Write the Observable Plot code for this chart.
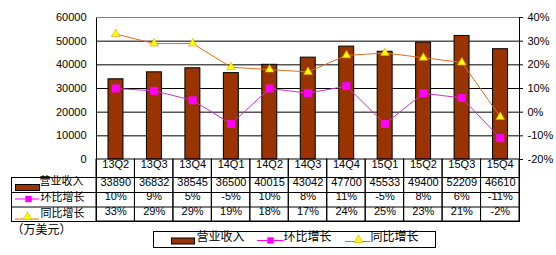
<!DOCTYPE html>
<html>
<head>
<meta charset="utf-8">
<script src="https://cdn.jsdelivr.net/npm/d3@7"></script>
<script src="https://cdn.jsdelivr.net/npm/@observablehq/plot@0.6"></script>
<style>
  body { margin: 0; background: #fff; }
  #chart { width: 556px; height: 255px; }
</style>
</head>
<body>
<div id="chart"></div>
<script>
// ---- data ----
const categories = ["13Q2","13Q3","13Q4","14Q1","14Q2","14Q3","14Q4","15Q1","15Q2","15Q3","15Q4"];
const revenue = [33890,36832,38545,36500,40015,43042,47700,45533,49400,52209,46610];
const qoq = [10,9,5,-5,10,8,11,-5,8,6,-11];
const yoy = [33,29,29,19,18,17,24,25,23,21,-2];
const leftTicks = [0,10000,20000,30000,40000,50000,60000];
const rightTicks = [-20,-10,0,10,20,30,40];
const seriesNames = ["营业收入","环比增长","同比增长"];
const unitLabel = "（万美元）";

// ---- layout ----
const W = 556, H = 255, ML = 96, MR = 37, MT = 17, MB = 96;
const FB = H - MB;   // frame bottom (159)
const FR = W - MR;   // frame right (519)

const BROWN = "#993300", MAG_LINE = "#cc33cc", MAG = "#ff00ff", ORANGE = "#e0701f", YELLOW = "#ffff00";
const CJK = "'Noto Sans CJK SC', sans-serif";

const rows = categories.map((q, i) => ({q, rev: revenue[i], qoq: qoq[i], yoy: yoy[i]}));
const yMin = leftTicks[0], yMax = leftTicks[leftTicks.length - 1];
const pMin = rightTicks[0], pMax = rightTicks[rightTicks.length - 1];
const pctToY = p => yMin + (p - pMin) / (pMax - pMin) * (yMax - yMin);

// helpers for decorations positioned relative to the frame
const box = (x1, y1, x2, y2, o = {}) => Plot.frame({insetLeft: x1 - ML, insetTop: y1 - MT, insetRight: FR - x2, insetBottom: FB - y2, ...o});
const hline = (x1, x2, y, o = {}) => Plot.ruleY([yMin], {dy: y - FB, insetLeft: x1 - ML, insetRight: FR - x2, ...o});
const at = (x, y) => ({frameAnchor: "bottom-left", dx: x - ML, dy: y - FB});

const marks = [
  // plot frame + table outline
  box(ML, MT, FR, FB + 62, {stroke: "#000"}),
  // gridlines
  Plot.ruleY(leftTicks.slice(1, -1), {stroke: "#000"}),
  Plot.ruleY([yMax], {stroke: "#808080"}),
  // left axis labels
  Plot.text(leftTicks, {y: d => d, frameAnchor: "left", dx: -10, textAnchor: "end", text: d => String(d), fontSize: 11}),
  // right axis ticks + labels
  Plot.ruleY(rightTicks, {y: pctToY, insetLeft: FR - ML, insetRight: -4, stroke: "#000"}),
  Plot.text(rightTicks, {y: pctToY, frameAnchor: "right", dx: 8, textAnchor: "start", text: d => d + "%", fontSize: 11}),
  // bars
  Plot.barY(rows, {x: "q", y: "rev", fill: BROWN, stroke: "#000", strokeWidth: 1, insetLeft: 12, insetRight: 11.5}),
  // 环比
  Plot.line(rows, {x: "q", y: d => pctToY(d.qoq), stroke: MAG_LINE, strokeWidth: 1}),
  Plot.dot(rows, {x: "q", y: d => pctToY(d.qoq), symbol: "square", r: 4.5, fill: MAG}),
  // 同比
  Plot.line(rows, {x: "q", y: d => pctToY(d.yoy), stroke: ORANGE, strokeWidth: 1}),
  Plot.dot(rows, {x: "q", y: d => pctToY(d.yoy), symbol: "triangle", r: 3.2, fill: YELLOW, stroke: "#e0a000", strokeWidth: 0.6}),

  // ---- data table ----
  Plot.cell(rows, {x: "q", fill: "none", stroke: "#000", insetTop: FB - MT, insetBottom: -62}),
  box(11, 177, FR, FB + 62, {stroke: "#000"}),
  hline(11, FR, 192, {stroke: "#000"}),
  hline(11, FR, 206.5, {stroke: "#000"}),
  Plot.text(rows, {x: "q", text: "q", frameAnchor: "bottom", dy: 167 - FB, fontSize: 11}),
  Plot.text(rows, {x: "q", text: d => String(d.rev), frameAnchor: "bottom", dy: 185 - FB, fontSize: 11}),
  Plot.text(rows, {x: "q", text: d => d.qoq + "%", frameAnchor: "bottom", dy: 199.5 - FB, fontSize: 11}),
  Plot.text(rows, {x: "q", text: d => d.yoy + "%", frameAnchor: "bottom", dy: 214 - FB, fontSize: 11}),
  // row labels with swatches
  box(15, 184, 39, 190, {fill: BROWN, stroke: "#000"}),
  Plot.text([seriesNames[0]], {...at(39, 184), text: d => d, textAnchor: "start", fontFamily: CJK, fontSize: 11}),
  hline(15, 39, 198.5, {stroke: MAG}),
  Plot.dot([0], {...at(28, 198.5), symbol: "square", r: 3.6, fill: MAG}),
  Plot.text([seriesNames[1]], {...at(40, 200), text: d => d, textAnchor: "start", fontFamily: CJK, fontSize: 11}),
  hline(15, 39, 218.5, {stroke: ORANGE}),
  Plot.dot([0], {...at(27, 216.5), symbol: "triangle", r: 3.2, fill: YELLOW, stroke: "#e0a000", strokeWidth: 0.6}),
  Plot.text([seriesNames[2]], {...at(40, 216), text: d => d, textAnchor: "start", fontFamily: CJK, fontSize: 11}),

  // unit label
  Plot.text([unitLabel], {...at(11, 233.5), text: d => d, textAnchor: "start", fontFamily: CJK, fontSize: 12}),

  // ---- legend ----
  box(153, 231, 435, 247, {stroke: "#000"}),
  box(171, 237.5, 194, 243.5, {fill: BROWN, stroke: "#000"}),
  Plot.text([seriesNames[0]], {...at(196, 240), text: d => d, textAnchor: "start", fontFamily: CJK, fontSize: 12}),
  hline(257, 283, 240, {stroke: MAG}),
  Plot.dot([0], {...at(270, 240), symbol: "square", r: 3.6, fill: MAG}),
  Plot.text([seriesNames[1]], {...at(283, 240), text: d => d, textAnchor: "start", fontFamily: CJK, fontSize: 12}),
  hline(345, 370, 241, {stroke: ORANGE}),
  Plot.dot([0], {...at(358, 239.5), symbol: "triangle", r: 3.2, fill: YELLOW, stroke: "#e0a000", strokeWidth: 0.6}),
  Plot.text([seriesNames[2]], {...at(370, 240), text: d => d, textAnchor: "start", fontFamily: CJK, fontSize: 12})
];

const chart = Plot.plot({
  width: W, height: H,
  marginLeft: ML, marginRight: MR, marginTop: MT, marginBottom: MB,
  x: {domain: categories, padding: 0, round: false, axis: null},
  y: {domain: [yMin, yMax], axis: null},
  style: {fontFamily: "'Liberation Sans', Arial, sans-serif", fontSize: "11px", background: "#fff", color: "#000", overflow: "visible"},
  marks
});
document.getElementById("chart").append(chart);
</script>
</body>
</html>
